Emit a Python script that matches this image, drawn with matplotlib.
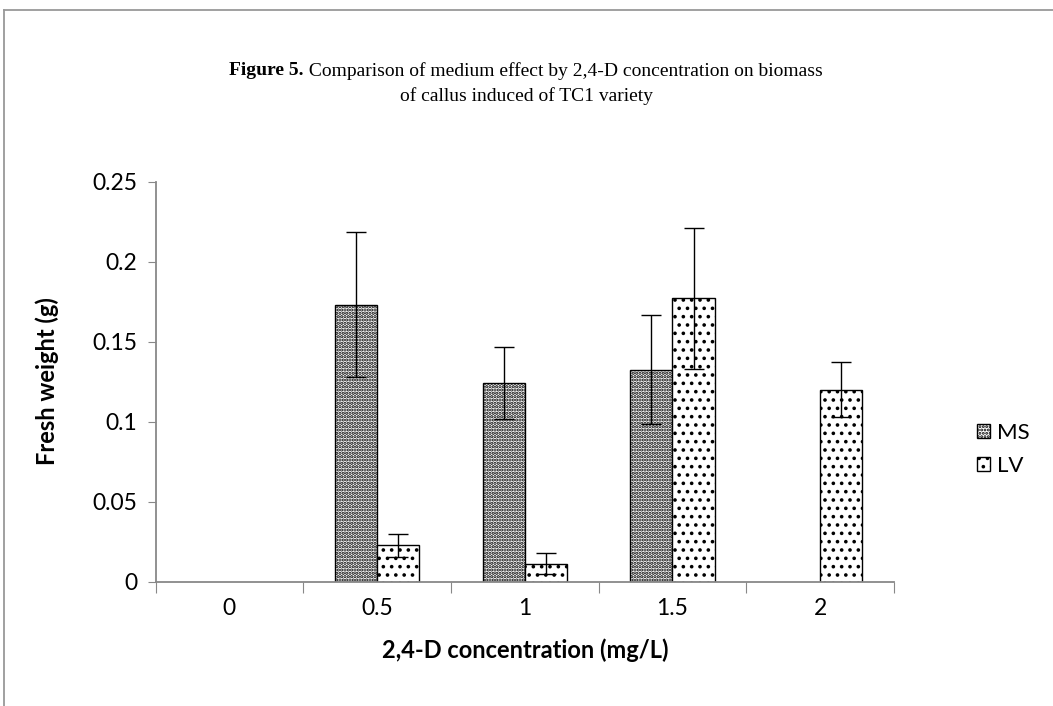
import numpy as np
import matplotlib
matplotlib.use("Agg")
import matplotlib.pyplot as plt
from matplotlib.lines import Line2D

# data
concentrations = ["0", "0.5", "1", "1.5", "2"]
ms_weight = [0.0, 0.173, 0.124, 0.1325, 0.0]
ms_err = [0.0, 0.0453, 0.0227, 0.034, 0.0]
lv_weight = [0.0, 0.0226, 0.0111, 0.177, 0.120]
lv_err = [0.0, 0.0072, 0.0067, 0.044, 0.017]

plt.rcParams['hatch.linewidth'] = 1.4
sans = ['Lato', 'DejaVu Sans']
serif = ['Liberation Serif', 'DejaVu Serif']

fig = plt.figure(figsize=(10.53, 7.06), dpi=100)
ax = fig.add_axes([0.1477, 0.1763, 0.7013, 0.5666])

x = np.arange(len(concentrations))
w = 0.285
has_ms = [v > 0 for v in ms_weight]
has_lv = [v > 0 for v in lv_weight]

ms_bars = ax.bar(x[has_ms] - w / 2, np.array(ms_weight)[has_ms], w, color="white",
                 edgecolor="black", linewidth=1.0, hatch=".....", label="MS")
ax.bar(x[has_lv] + w / 2, np.array(lv_weight)[has_lv], w, color="white",
       edgecolor="black", linewidth=1.0, hatch="..", label="LV")
# slightly darker dot pattern for MS where per-patch hatch width is supported
for p in ms_bars:
    if hasattr(p, "set_hatch_linewidth"):
        p.set_hatch_linewidth(1.6)
ax.errorbar(x[has_ms] - w / 2, np.array(ms_weight)[has_ms], yerr=np.array(ms_err)[has_ms],
            fmt="none", ecolor="black", elinewidth=1.0, capsize=7, capthick=1.0)
ax.errorbar(x[has_lv] + w / 2, np.array(lv_weight)[has_lv], yerr=np.array(lv_err)[has_lv],
            fmt="none", ecolor="black", elinewidth=1.0, capsize=7, capthick=1.0)

ax.set_xlim(-0.5, len(concentrations) - 0.5)
ax.set_ylim(0, 0.25)
ax.set_yticks([0, 0.05, 0.1, 0.15, 0.2, 0.25])
ax.set_yticklabels(["0", "0.05", "0.1", "0.15", "0.2", "0.25"], family=sans, fontsize=16.5)

ax.set_xticks(np.arange(-0.5, len(concentrations)), labels=[""] * (len(concentrations) + 1))
ax.set_xticks(x, minor=True)
ax.set_xticklabels(concentrations, minor=True, family=sans, fontsize=16.5)
ax.tick_params(axis="x", which="minor", length=0, pad=12)
ax.tick_params(axis="x", which="major", length=8, color="#888888")
ax.tick_params(axis="y", length=6, color="#888888", pad=7)

for s in ["top", "right"]:
    ax.spines[s].set_visible(False)
for s in ["left", "bottom"]:
    ax.spines[s].set_color("#888888")
    ax.spines[s].set_linewidth(1.3)

ax.set_xlabel("2,4-D concentration (mg/L)", family=sans, fontsize=17, fontweight="bold", labelpad=14)
ax.set_ylabel("Fresh weight (g)", family=sans, fontsize=17, fontweight="bold", labelpad=24)

leg = ax.legend(loc="center left", bbox_to_anchor=(1.085, 0.33), frameon=False,
                prop={"family": sans, "size": 16}, handlelength=0.6, handleheight=0.6,
                handletextpad=0.3, labelspacing=0.6)

# title: bold prefix followed by plain text, centred as one line
t1 = fig.text(0, 0.9, "Figure 5.", family=serif, fontsize=14, fontweight="bold", va="center")
t2 = fig.text(0, 0.9, " Comparison of medium effect by 2,4-D concentration on biomass",
              family=serif, fontsize=14, va="center")
fig.canvas.draw()
r = fig.canvas.get_renderer()
w1 = t1.get_window_extent(r).width
w2 = t2.get_window_extent(r).width
x0 = 526 - (w1 + w2) / 2
t1.set_x(x0 / 1053)
t2.set_x((x0 + w1) / 1053)
fig.text(0.5, 0.864, "of callus induced of TC1 variety", family=serif, fontsize=14,
         va="center", ha="center")

# outer chart border
fig.add_artist(Line2D([0.004, 0.004], [0.0, 0.986], color="#999999", lw=1.3))
fig.add_artist(Line2D([0.004, 1.0], [0.986, 0.986], color="#999999", lw=1.3))

fig.savefig("out.png", dpi=100)
